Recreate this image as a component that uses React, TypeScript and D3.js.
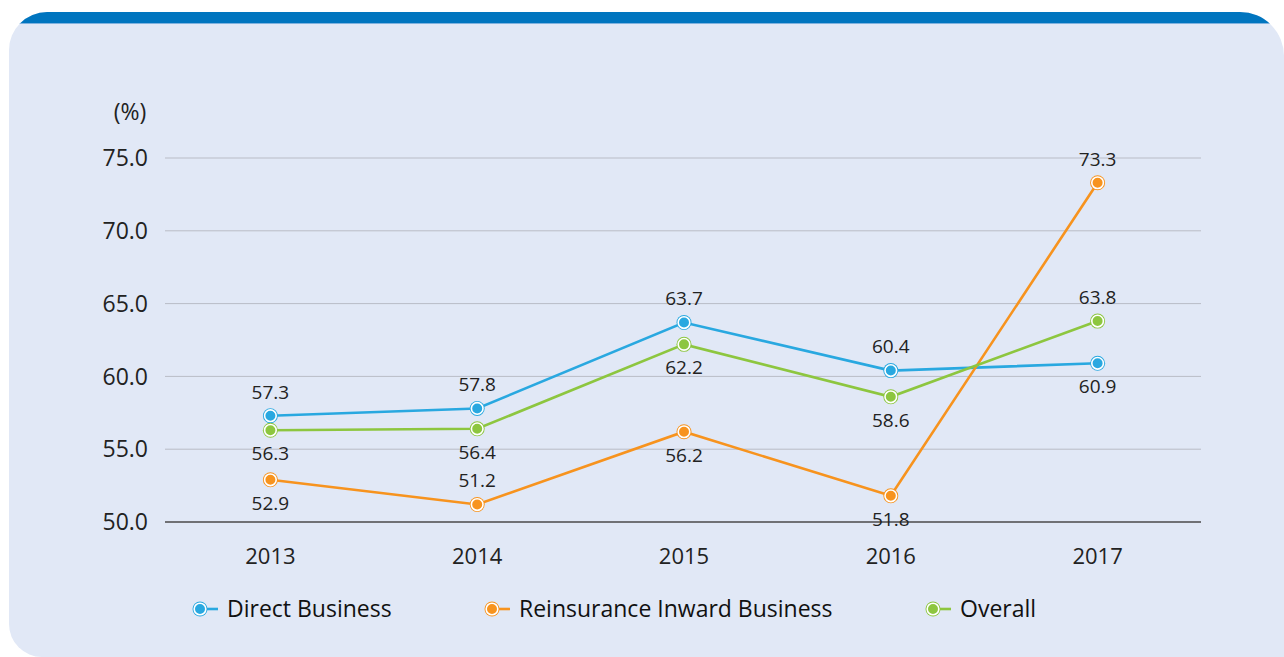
import React from 'react';
import * as d3 from 'd3';

const years = ['2013', '2014', '2015', '2016', '2017'];
const directBusiness = [57.3, 57.8, 63.7, 60.4, 60.9];
const reinsuranceInward = [52.9, 51.2, 56.2, 51.8, 73.3];
const overall = [56.3, 56.4, 62.2, 58.6, 63.8];
const yTicks = [50, 55, 60, 65, 70, 75];

// label placement: 1 = above the point, -1 = below
const directPos = [1, 1, 1, 1, -1];
const reinsPos = [-1, 1, -1, -1, 1];
const overallPos = [-1, -1, -1, -1, 1];

const series = [
  { name: 'Direct Business', values: directBusiness, pos: directPos, color: '#29a8e0', lx: 200 },
  { name: 'Reinsurance Inward Business', values: reinsuranceInward, pos: reinsPos, color: '#f7931e', lx: 492 },
  { name: 'Overall', values: overall, pos: overallPos, color: '#8dc63f', lx: 933 },
];

const FONT = '"Open Sans", "Noto Sans", sans-serif';

function Marker({ x, y, color }: { x: number; y: number; color: string }) {
  return (
    <g>
      <circle cx={x} cy={y} r={7.5} fill={color} />
      <circle cx={x} cy={y} r={5.8} fill={color} stroke="#fff" strokeWidth={1.6} />
    </g>
  );
}

const panelPath =
  'M9,50 A38,38 0 0 1 47,12 L1240,12 A44,44 0 0 1 1284,56 L1284,657 L42,657 A33,33 0 0 1 9,624 Z';

export default function App() {
  const x = d3.scalePoint<string>().domain(years).range([167, 1201]).padding(0.5);
  const y = d3.scaleLinear().domain([50, 75]).range([522, 158]);
  const line = d3
    .line<number>()
    .x((_, i) => x(years[i]) as number)
    .y((d) => y(d));

  return (
    <svg width={1284} height={657} style={{ position: 'absolute', left: 0, top: 0 }}>
      <defs>
        <clipPath id="panel">
          <path d={panelPath} />
        </clipPath>
      </defs>
      <path d={panelPath} fill="#e1e8f6" />
      <g clipPath="url(#panel)">
        <rect x={0} y={0} width={1284} height={23} fill="#0075bf" />
        <line x1={0} x2={1284} y1={23.5} y2={23.5} stroke="#7fb2df" strokeWidth={1} />
      </g>

      {yTicks.map((t) => (
        <g key={t}>
          <line
            x1={165}
            x2={1201}
            y1={y(t)}
            y2={y(t)}
            stroke={t === 50 ? '#4a4a4a' : '#b9bcc6'}
            strokeWidth={t === 50 ? 1.3 : 1}
          />
          <text x={148} y={y(t)} dy="0.36em" textAnchor="end" fontSize={23} fontFamily={FONT} fill="#222">
            {t.toFixed(1)}
          </text>
        </g>
      ))}
      <text x={130} y={112} dy="0.36em" textAnchor="middle" fontSize={23} fontFamily={FONT} fill="#222">
        (%)
      </text>

      {years.map((yr) => (
        <text key={yr} x={x(yr)} y={556} dy="0.36em" textAnchor="middle" fontSize={22} fontFamily={FONT} fill="#222">
          {yr}
        </text>
      ))}

      {series.map((s) => (
        <path key={s.name} d={line(s.values) || ''} fill="none" stroke={s.color} strokeWidth={2.6} />
      ))}
      {series.map((s) =>
        s.values.map((v, i) => (
          <g key={s.name + i}>
            <Marker x={x(years[i]) as number} y={y(v)} color={s.color} />
            <text
              x={x(years[i])}
              y={y(v) + (s.pos[i] > 0 ? -24 : 23)}
              dy="0.36em"
              textAnchor="middle"
              fontSize={19}
              fontFamily={FONT}
              fill="#222"
            >
              {v.toFixed(1)}
            </text>
          </g>
        ))
      )}

      {series.map((s) => (
        <g key={'lg' + s.name}>
          <line x1={s.lx} x2={s.lx + 18} y1={609} y2={609} stroke={s.color} strokeWidth={2.6} />
          <Marker x={s.lx} y={609} color={s.color} />
          <text x={s.lx + 27} y={609} dy="0.36em" fontSize={23} fontFamily={FONT} fill="#111">
            {s.name}
          </text>
        </g>
      ))}
    </svg>
  );
}
